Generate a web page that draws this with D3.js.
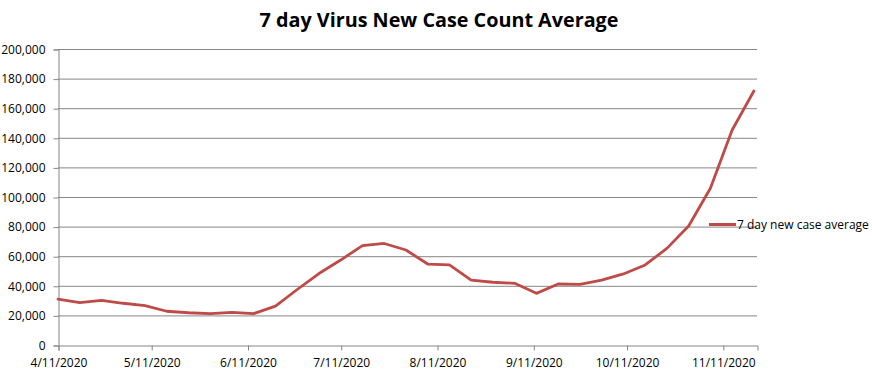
<!DOCTYPE html>
<html>
<head>
<meta charset="utf-8">
<script src="https://cdn.jsdelivr.net/npm/d3@7"></script>
<style>
  html, body { margin: 0; padding: 0; background: #fff; }
  svg { display: block; }
  text { font-family: "Open Sans", "Liberation Sans", sans-serif; fill: #000; }
</style>
</head>
<body>
<script>
const titleText = "7 day Virus New Case Count Average";
const seriesName = "7 day new case average";
const dates = ["4/11/2020","4/18/2020","4/25/2020","5/2/2020","5/9/2020","5/16/2020","5/23/2020","5/30/2020",
  "6/6/2020","6/13/2020","6/20/2020","6/27/2020","7/4/2020","7/11/2020","7/18/2020","7/25/2020",
  "8/1/2020","8/8/2020","8/15/2020","8/22/2020","8/29/2020","9/5/2020","9/12/2020","9/19/2020",
  "9/26/2020","10/3/2020","10/10/2020","10/17/2020","10/24/2020","10/31/2020","11/7/2020","11/14/2020","11/21/2020"];
const values = [31000, 28600, 30200, 28200, 26600, 22800, 21800, 21200, 22100, 21200, 26300, 37500,
  48300, 57400, 67200, 68600, 64200, 54700, 54100, 43900, 42400, 41700, 34900, 41200,
  41000, 43900, 48000, 54100, 65300, 80400, 105900, 145300, 171600];
const xTickLabels = ["4/11/2020","5/11/2020","6/11/2020","7/11/2020","8/11/2020","9/11/2020","10/11/2020","11/11/2020"];
const xDomain = ["4/11/2020", "11/22/2020"];
const yTicks = [0, 20000, 40000, 60000, 80000, 100000, 120000, 140000, 160000, 180000, 200000];

const W = 872, H = 391;
const mLeft = 58, mRight = 757, mTop = 49, mBottom = 345;
const parse = d3.utcParse("%m/%d/%Y");
const fmtY = d3.format(",");
const lineColor = "#BE4B48";
const gridColor = "#868686";

const svg = d3.select("body").append("svg").attr("width", W).attr("height", H);

const x = d3.scaleUtc().domain(xDomain.map(parse)).range([mLeft, mRight]);
const y = d3.scaleLinear().domain([0, 200000]).range([mBottom, mTop]);

// gridlines
svg.append("g").selectAll("line").data(yTicks.filter(d => d > 0)).join("line")
  .attr("x1", mLeft).attr("x2", mRight)
  .attr("y1", d => y(d) + 0.5).attr("y2", d => y(d) + 0.5)
  .attr("stroke", gridColor).attr("stroke-width", 1);

// y axis
const yAxis = svg.append("g").attr("transform", `translate(${mLeft + 0.5},0.5)`)
  .call(d3.axisLeft(y).tickValues(yTicks).tickFormat(fmtY).tickSize(5).tickPadding(8));
yAxis.select(".domain").attr("stroke", gridColor);
yAxis.selectAll(".tick line").attr("stroke", gridColor);
yAxis.selectAll("text").attr("font-size", 12).attr("fill", "#000")
  .attr("font-family", "'Open Sans', sans-serif");

// x axis
const xAxis = svg.append("g").attr("transform", `translate(0.5,${mBottom + 0.5})`)
  .call(d3.axisBottom(x).tickValues(xTickLabels.map(parse)).tickFormat((d, i) => xTickLabels[i]).tickSize(5).tickPadding(8));
xAxis.select(".domain").attr("stroke", gridColor);
xAxis.selectAll(".tick line").attr("stroke", gridColor);
xAxis.selectAll("text").attr("font-size", 12).attr("fill", "#000")
  .attr("font-family", "'Open Sans', sans-serif");

// line
const data = dates.map((d, i) => ({ date: parse(d), value: values[i] }));
svg.append("path").datum(data)
  .attr("fill", "none").attr("stroke", lineColor).attr("stroke-width", 2.8)
  .attr("stroke-linejoin", "round").attr("stroke-linecap", "round")
  .attr("d", d3.line().x(d => x(d.date)).y(d => y(d.value)));

// title
const title = svg.append("text").attr("x", 439).attr("y", 27)
  .attr("text-anchor", "middle").attr("font-weight", "bold").attr("font-size", 20)
  .text(titleText);
const tw = title.node().getComputedTextLength();
title.attr("font-size", 20 * 359 / tw);

// legend
svg.append("line").attr("x1", 709).attr("x2", 736).attr("y1", 224.5).attr("y2", 224.5)
  .attr("stroke", lineColor).attr("stroke-width", 3);
svg.append("text").attr("x", 737).attr("y", 229).attr("font-size", 12).text(seriesName);
</script>
</body>
</html>
